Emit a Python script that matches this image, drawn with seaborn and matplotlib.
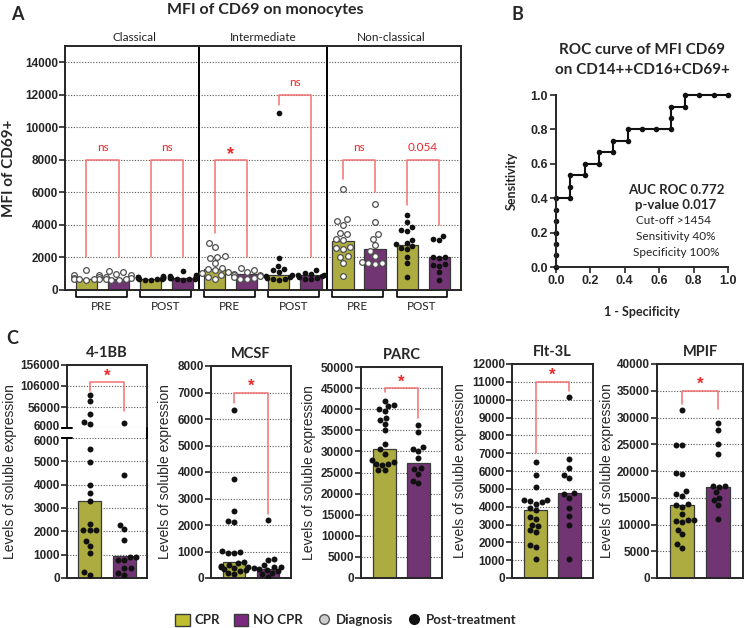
import matplotlib
matplotlib.use("Agg")
import numpy as np
import pandas as pd
import matplotlib.pyplot as plt
import seaborn as sns
from matplotlib.patches import Patch
from matplotlib.lines import Line2D
import matplotlib.transforms as mtransforms

# ---------------- Panel A: MFI de CD69 em monócitos ----------------
subsets = ["Classical", "Intermediate", "Non-classical"]
times = ["PRE", "POST"]
resp = ["CPR", "NO CPR"]

cla_pre_cpr = [1200, 950, 900, 800, 750, 700, 700, 650, 650, 600]
cla_pre_nocpr = [1150, 1100, 1000, 950, 800, 750, 700, 650, 600, 600]
cla_post_cpr = [850, 800, 800, 780, 750, 720, 700, 680, 650, 620, 600, 750]
cla_post_nocpr = [1150, 900, 850, 800, 780, 750, 720, 700, 680, 650, 620]
int_pre_cpr = [2900, 2650, 2100, 2050, 1950, 1650, 1350, 1300, 1200, 1100, 1050, 900, 800, 700]
int_pre_nocpr = [1350, 1200, 1100, 1000, 950, 900, 850, 800, 750, 700, 650]
int_post_cpr = [10900, 1950, 1450, 1300, 1200, 1100, 900, 850, 800, 750, 700, 650, 600]
int_post_nocpr = [1200, 1050, 1000, 950, 900, 850, 800, 750, 700, 650]
ncl_pre_cpr = [6200, 4350, 4250, 4000, 3500, 3450, 3150, 3100, 2650, 2600, 2500, 2100, 2050, 1650, 850]
ncl_pre_nocpr = [5300, 4200, 3450, 3150, 2750, 2400, 2100, 1700, 1650, 1650, 1600]
ncl_post_cpr = [4600, 4200, 3850, 3700, 3650, 3100, 2900, 2800, 2700, 2600, 2500, 2000, 1650, 800]
ncl_post_nocpr = [3300, 3150, 3050, 2050, 2000, 1950, 1550, 1500, 1600, 1100, 600]
bar_a = [700, 700, 700, 750, 1280, 990, 930, 950, 2990, 2520, 2780, 2020]

# significância painel A: (x1, x2, topo, perna esq, perna dir, rótulo)
sig_a = [(0, 1, 8000, 2000, 2000, "ns"), (2, 3, 8000, 2000, 2000, "ns"),
         (4, 5, 8000, 3500, 2000, "*"), (6, 7, 12000, 11400, 2000, "ns"),
         (8, 9, 8000, 6800, 6000, "ns"), (10, 11, 8000, 5200, 4000, "0.054")]

# ---------------- Panel B: ROC ----------------
roc_fpr = [0, 0, 0, 0, 0, 0, 0, 0.083, 0.083, 0.083, 0.167, 0.167, 0.25, 0.25,
           0.333, 0.333, 0.417, 0.417, 0.5, 0.583, 0.667, 0.667, 0.667, 0.75, 0.75,
           0.833, 0.917, 1.0]
roc_tpr = [0, 0.067, 0.133, 0.2, 0.267, 0.333, 0.4, 0.4, 0.467, 0.533, 0.533, 0.6,
           0.6, 0.667, 0.667, 0.733, 0.733, 0.8, 0.8, 0.8, 0.8, 0.867, 0.933, 0.933,
           1.0, 1.0, 1.0, 1.0]

# ---------------- Panel C: proteínas solúveis ----------------
bb_cpr = [85000, 70500, 39600, 19900, 15000, 5530, 4960, 4000, 3640, 3290, 2330,
          2070, 2070, 2070, 1570, 1360, 1070, 260, 140]
bb_nocpr = [18300, 4410, 2290, 2100, 1640, 900, 900, 790, 760, 430, 430, 210, 140]
bb_bar = [3300, 930]
mcsf_cpr = [6330, 3720, 2540, 2150, 2100, 1020, 980, 950, 930, 600, 560, 500, 450,
            420, 400, 380, 350, 300, 250, 200, 150]
mcsf_nocpr = [2170, 700, 690, 500, 420, 400, 380, 350, 300, 250, 200, 150, 50]
mcsf_bar = [620, 330]
parc_cpr = [42000, 41000, 40700, 40000, 39500, 38000, 37500, 36500, 35000, 31800,
            30500, 29500, 28000, 27500, 27000, 27000, 26800, 25500, 25500]
parc_nocpr = [36200, 34700, 31000, 30500, 30000, 28500, 26000, 25800, 24700, 23000, 22500]
parc_bar = [30500, 27300]
flt_cpr = [6500, 5750, 5100, 4400, 4350, 4300, 4250, 4150, 3950, 3800, 3400, 3300,
           3000, 2900, 2700, 2600, 1850, 1750, 1050]
flt_nocpr = [10150, 6650, 6150, 5800, 5600, 4750, 4700, 4500, 3900, 3500, 3000, 1050]
flt_bar = [3800, 4750]
mpif_cpr = [31400, 24800, 24800, 19700, 19400, 16300, 15700, 15400, 13800, 13700,
            13300, 12000, 10900, 10800, 10700, 10500, 9000, 8200, 6400, 5700]
mpif_nocpr = [29000, 27700, 25000, 23200, 17200, 17200, 17000, 16000, 15000, 14500, 13700, 11100]
mpif_bar = [13700, 17000]

# ---------------- estilo ----------------
sns.set_theme(style="ticks")
plt.rcParams["font.family"] = ["Liberation Sans", "DejaVu Sans"]
plt.rcParams["axes.linewidth"] = 1.4

CPR_COL = "#bebe2e"
NOCPR_COL = "#7b2a7f"
RED_LINE = "#f27272"
RED_TXT = "#ea2a2a"
CAL = ["Lato", "DejaVu Sans"]
pal = {"CPR": CPR_COL, "NO CPR": NOCPR_COL}

W, H = 745, 628
fig = plt.figure(figsize=(W / 100, H / 100), dpi=100)


def box(l, t, r, b):
    return [l / W, 1 - b / H, (r - l) / W, (b - t) / H]


def ftext(x, y, s, **kw):
    fig.text(x / W, 1 - y / H, s, ha=kw.pop("ha", "center"), va=kw.pop("va", "center"), **kw)


def bracket(ax, x1, x2, top, y1, y2, label, fs_txt=8, fs_star=12, gap=0.0):
    ax.plot([x1, x1, x2, x2], [y1, top, top, y2], color=RED_LINE, lw=1.1, clip_on=False)
    if label == "*":
        ax.text((x1 + x2) / 2, top + gap, "*", color=RED_TXT, ha="center", va="center",
                fontsize=fs_star, fontweight="bold")
    else:
        ax.text((x1 + x2) / 2, top + gap, label, color=RED_TXT, ha="center", va="bottom",
                fontsize=fs_txt, family=CAL)


def tick_style(ax, size=8.5):
    ax.tick_params(axis="y", direction="out", length=4, width=1.2, labelsize=size, pad=1)
    for lab in ax.get_yticklabels():
        lab.set_fontweight("bold")


# =================== Panel A ===================
order_a = [f"{s}|{t}|{r}" for s in subsets for t in times for r in resp]
pts_lists = [cla_pre_cpr, cla_pre_nocpr, cla_post_cpr, cla_post_nocpr,
             int_pre_cpr, int_pre_nocpr, int_post_cpr, int_post_nocpr,
             ncl_pre_cpr, ncl_pre_nocpr, ncl_post_cpr, ncl_post_nocpr]
rows = []
for g, vals in zip(order_a, pts_lists):
    for v in vals:
        rows.append({"grp": g, "mfi": v, "time": g.split("|")[1]})
df_a = pd.DataFrame(rows)
bar_df_a = pd.DataFrame({"grp": order_a, "mfi": bar_a, "resp": [g.split("|")[2] for g in order_a]})

axA = fig.add_axes(box(65, 46, 461, 290))
axA.yaxis.grid(True, linestyle=(0, (1, 1.5)), color="#555555", lw=0.8)
axA.set_axisbelow(True)
sns.barplot(data=bar_df_a, x="grp", y="mfi", hue="resp", order=order_a, palette=pal,
            dodge=False, width=0.66, edgecolor="#3a3a3a", linewidth=0.9, errorbar=None,
            legend=False, ax=axA)
sns.swarmplot(data=df_a[df_a.time == "PRE"], x="grp", y="mfi", order=order_a,
              color="white", edgecolor="#505050", linewidth=0.9, size=4.1, ax=axA, warn_thresh=1)
sns.swarmplot(data=df_a[df_a.time == "POST"], x="grp", y="mfi", order=order_a,
              color="#111111", size=4.1, ax=axA, warn_thresh=1)
axA.set_xlim(-0.67, 11.68)
axA.set_ylim(0, 15000)
axA.set_yticks(range(0, 14001, 2000))
axA.set_xticks([])
axA.set_xlabel("")
axA.set_ylabel("")
for xv in (3.5, 7.5):
    axA.axvline(xv, color="black", lw=1.4)
tick_style(axA, 8.5)
for x1, x2, top, y1, y2, lab in sig_a:
    bracket(axA, x1, x2, top, y1, y2, lab, fs_txt=8.5, fs_star=13,
            gap=400 if lab != "*" else 350)
trA = mtransforms.blended_transform_factory(axA.transData, axA.transAxes)
for i in range(6):
    x0 = 2 * i
    axA.plot([x0 - 0.33, x0 - 0.33, x0 + 1.25, x0 + 1.25], [0, -0.029, -0.029, 0],
             color="black", lw=1.2, transform=trA, clip_on=False)
    axA.text(x0 + 0.46, -0.068, times[i % 2], transform=trA, ha="center", va="center",
             fontsize=8.5, family=CAL, color="#222222")
for k, s in enumerate(subsets):
    axA.text(1.5 + 4 * k, 1.035, s, transform=trA, ha="center", va="center",
             fontsize=8.5, family=CAL, color="#222222")
ftext(265, 10, "MFI of CD69 on monocytes", fontsize=11.5, fontweight="bold", family=CAL)
ftext(9, 168, "MFI of CD69+", rotation=90, fontsize=11, fontweight="bold", family=CAL)
ftext(17, 15, "A", fontsize=13, fontweight="bold", family=CAL)

# =================== Panel B ===================
axB = fig.add_axes(box(556, 95, 728, 267))
sns.lineplot(x=roc_fpr, y=roc_tpr, sort=False, estimator=None, marker="o", color="#111111",
             lw=1.5, markersize=4, markeredgewidth=0, ax=axB)
for ln in axB.lines:
    ln.set_clip_on(False)
axB.set_xlim(0, 1)
axB.set_ylim(0, 1)
axB.set_xticks(np.arange(0, 1.01, 0.2))
axB.set_yticks(np.arange(0, 1.01, 0.2))
sns.despine(ax=axB)
axB.tick_params(direction="out", length=4, width=1.2, labelsize=9, pad=2)
for lab in axB.get_xticklabels() + axB.get_yticklabels():
    lab.set_fontweight("bold")
ftext(517, 15, "B", fontsize=13, fontweight="bold", family=CAL)
ftext(642, 50, "ROC curve of MFI CD69", fontsize=11, fontweight="bold", family=CAL)
ftext(642, 70, "on CD14++CD16+CD69+", fontsize=11, fontweight="bold", family=CAL)
ftext(512, 181, "Sensitivity", rotation=90, fontsize=9, fontweight="bold", family=CAL)
ftext(642, 312, "1 - Specificity", fontsize=9, fontweight="bold", family=CAL)
ftext(676, 190, "AUC ROC 0.772", fontsize=9.5, fontweight="bold", family=CAL)
ftext(676, 205, "p-value 0.017", fontsize=9.5, fontweight="bold", family=CAL)
ftext(673, 221, "Cut-off >1454", fontsize=8.5, family=CAL, color="#222222")
ftext(676, 237, "Sensitivity 40%", fontsize=8.5, family=CAL, color="#222222")
ftext(676, 252, "Specificity 100%", fontsize=8.5, family=CAL, color="#222222")

# =================== Panel C ===================
def soluble_df(cpr, nocpr):
    return pd.DataFrame({"resp": ["CPR"] * len(cpr) + ["NO CPR"] * len(nocpr),
                         "val": list(cpr) + list(nocpr)})


def draw_c(ax, df, bars, xr):
    bdf = pd.DataFrame({"resp": resp, "val": bars})
    ax.yaxis.grid(True, linestyle=(0, (1, 1.5)), color="#555555", lw=0.8)
    ax.set_axisbelow(True)
    sns.barplot(data=bdf, x="resp", y="val", hue="resp", order=resp, palette=pal,
                dodge=False, width=0.66, edgecolor="#3a3a3a", linewidth=0.9,
                errorbar=None, legend=False, ax=ax)
    sns.swarmplot(data=df, x="resp", y="val", order=resp, color="#111111", size=4.3,
                  ax=ax, warn_thresh=1)
    ax.set_xlim(*xr)
    ax.set_xticks([])
    ax.set_xlabel("")
    ax.set_ylabel("")


panels = [
    ("MCSF", mcsf_cpr, mcsf_nocpr, mcsf_bar, (211, 366, 291), 8000, 1000, (0, 1, 7000, 6600, 2400), 165),
    ("PARC", parc_cpr, parc_nocpr, parc_bar, (361, 367, 442), 50000, 5000, (0, 1, 45000, 44000, 37800), 309),
    ("Flt-3L", flt_cpr, flt_nocpr, flt_bar, (512, 364, 593), 12000, 1000, (0, 1, 11000, 7000, 10500), 460),
    ("MPIF", mpif_cpr, mpif_nocpr, mpif_bar, (657, 364, 743), 40000, 5000, (0, 1, 35000, 32500, 31500), 607),
]

# 4-1BB com eixo interrompido
df_bb = soluble_df(bb_cpr, bb_nocpr)
ax_bt = fig.add_axes(box(67, 365, 147, 428))
ax_bb = fig.add_axes(box(67, 438, 147, 578))
draw_c(ax_bt, df_bb[df_bb.val >= 6000], bb_bar, (-0.65, 1.65))
draw_c(ax_bb, df_bb[df_bb.val < 6000], bb_bar, (-0.65, 1.65))
ax_bt.set_ylim(6000, 156000)
ax_bt.set_yticks([6000, 56000, 106000, 156000])
ax_bb.set_ylim(0, 6000)
ax_bb.set_yticks(range(0, 6001, 1000))
ax_bt.spines["bottom"].set_visible(False)
ax_bb.spines["top"].set_visible(False)
tick_style(ax_bt, 8.5)
tick_style(ax_bb, 8.5)
# afasta um pouco os dois rótulos "6000" da quebra
lab_t = ax_bt.get_yticklabels()[0]
lab_t.set_transform(lab_t.get_transform() + mtransforms.ScaledTranslation(0, 2 / 72, fig.dpi_scale_trans))
lab_b = ax_bb.get_yticklabels()[-1]
lab_b.set_transform(lab_b.get_transform() + mtransforms.ScaledTranslation(0, -2 / 72, fig.dpi_scale_trans))
bracket(ax_bt, 0, 1, 115500, 93000, 47000, "*", fs_star=12, gap=14000)
fig.add_artist(Line2D([147 / W, 147 / W], [1 - 428 / H, 1 - 438 / H], color="black", lw=1.4))
for yb in (428, 438):
    fig.add_artist(Line2D([62 / W, 72 / W], [1 - yb / H, 1 - yb / H], color="black", lw=1.4))
ftext(107, 353, "4-1BB", fontsize=10.5, fontweight="bold", family=CAL)
ftext(10, 472, "Levels of soluble expression", rotation=90, fontsize=10)

for name, cpr, nocpr, bars, (l, t, r), ymax, step, sig, ylx in panels:
    ax = fig.add_axes(box(l, t, r, 578))
    draw_c(ax, soluble_df(cpr, nocpr), bars, (-0.7, 1.7))
    ax.set_ylim(0, ymax)
    ax.set_yticks(range(0, ymax + 1, step))
    tick_style(ax, 8.5)
    x1, x2, top, y1, y2 = sig
    bracket(ax, x1, x2, top, y1, y2, "*", fs_star=12, gap=ymax * 0.03)
    ftext((l + r) / 2, t - 12, name, fontsize=10.5, fontweight="bold", family=CAL)
    ftext(ylx, (t + 578) / 2, "Levels of soluble expression", rotation=90, fontsize=10)

ftext(12, 338, "C", fontsize=13, fontweight="bold", family=CAL)

# legenda
handles = [
    Patch(facecolor=CPR_COL, edgecolor="#3a3a3a", label="CPR"),
    Patch(facecolor=NOCPR_COL, edgecolor="#3a3a3a", label="NO CPR"),
    Line2D([], [], marker="o", ls="", markerfacecolor="#cccccc", markeredgecolor="#555555",
           markersize=7, label="Diagnosis"),
    Line2D([], [], marker="o", ls="", markerfacecolor="#111111", markeredgecolor="#111111",
           markersize=7, label="Post-treatment"),
]
fig.legend(handles=handles, loc="center", bbox_to_anchor=(346 / W, 1 - 620 / H), ncol=4,
           frameon=False, handlelength=1.1, handleheight=1.1, handletextpad=0.4,
           columnspacing=1.0, prop={"family": CAL, "weight": "bold", "size": 9.5})

fig.savefig("out.png", dpi=100)
